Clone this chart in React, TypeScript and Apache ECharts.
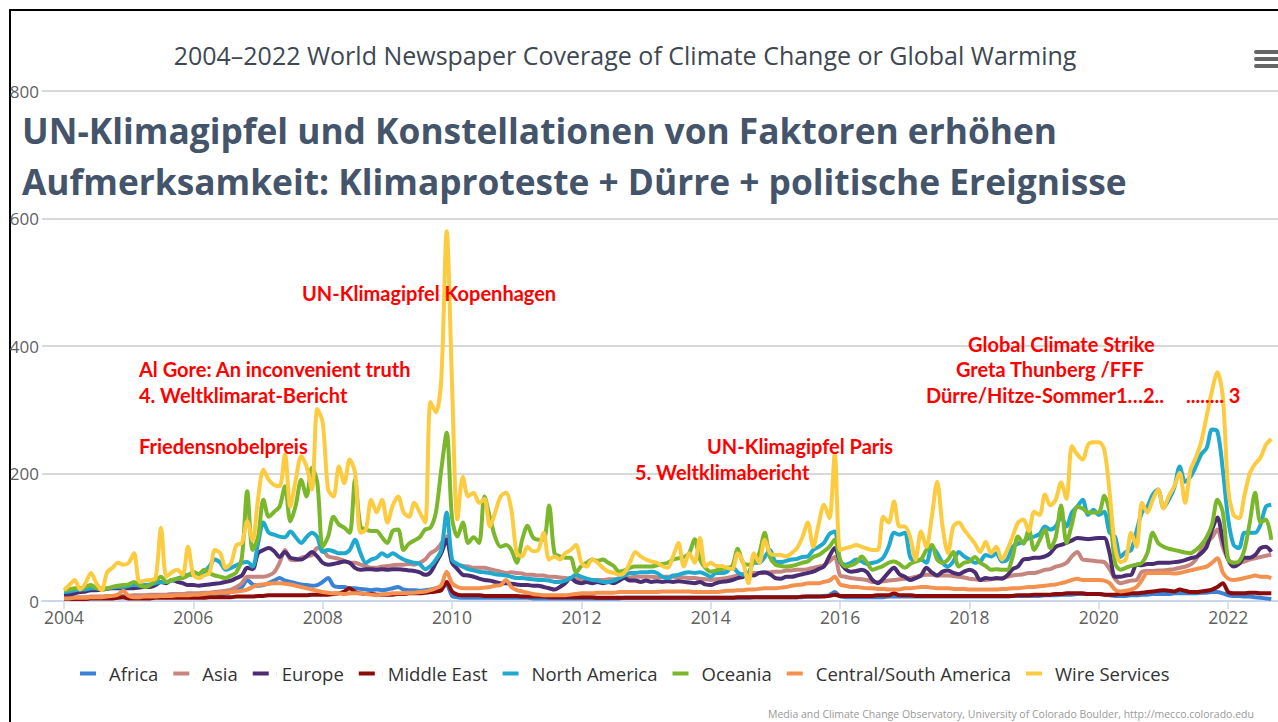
import React, { useEffect, useRef } from "react";
import * as echarts from "echarts";

// Monthly values, Jan 2004 .. Sep 2022 (one row per year)
const africa = [
  3, 3, 4, 4, 4, 5, 5, 5, 5, 5, 6, 6,
  6, 6, 6, 6, 7, 7, 7, 7, 8, 8, 8, 8,
  8, 8, 9, 9, 10, 10, 12, 14, 16, 22, 33, 26,
  24, 25, 28, 32, 36, 32, 30, 28, 26, 25, 24, 25,
  30, 36, 24, 22, 22, 20, 20, 19, 18, 17, 18, 17,
  18, 20, 22, 18, 17, 17, 16, 17, 18, 20, 22, 25,
  8, 6, 5, 5, 5, 5, 5, 5, 5, 5, 5, 5,
  5, 5, 5, 4, 4, 4, 4, 4, 4, 4, 4, 4,
  4, 4, 4, 4, 4, 4, 4, 4, 5, 5, 5, 5,
  5, 5, 5, 5, 5, 5, 5, 5, 5, 5, 5, 5,
  5, 5, 5, 5, 5, 5, 5, 5, 6, 6, 6, 6,
  6, 6, 6, 6, 6, 6, 7, 7, 7, 8, 9, 14,
  7, 6, 6, 6, 6, 6, 6, 6, 6, 7, 7, 7,
  7, 7, 7, 7, 7, 7, 7, 7, 7, 7, 7, 7,
  7, 7, 7, 7, 7, 7, 7, 7, 8, 8, 8, 8,
  8, 8, 9, 9, 9, 10, 10, 10, 11, 11, 11, 11,
  11, 10, 9, 8, 8, 8, 9, 9, 10, 10, 11, 11,
  11, 11, 12, 12, 12, 12, 12, 13, 13, 14, 14, 12,
  9, 8, 8, 7, 7, 6, 5, 4, 3,
];

const asia = [
  5, 5, 6, 6, 6, 7, 7, 7, 8, 8, 8, 8,
  8, 9, 9, 9, 10, 10, 10, 10, 11, 11, 11, 12,
  12, 12, 13, 13, 14, 15, 16, 18, 22, 28, 38, 38,
  38, 38, 40, 45, 60, 80, 65, 64, 68, 70, 72, 83,
  80, 70, 68, 66, 63, 60, 60, 57, 55, 52, 52, 54,
  55, 56, 57, 57, 58, 57, 60, 65, 75, 80, 90, 101,
  60, 57, 55, 54, 52, 52, 52, 50, 48, 46, 44, 45,
  44, 43, 41, 41, 40, 40, 38, 38, 37, 36, 35, 35,
  34, 34, 33, 33, 33, 34, 34, 35, 36, 37, 38, 38,
  38, 38, 37, 38, 38, 38, 37, 37, 36, 36, 35, 34,
  33, 34, 35, 36, 38, 40, 42, 44, 44, 44, 44, 45,
  46, 46, 48, 48, 49, 49, 50, 52, 54, 56, 62, 69,
  40, 38, 36, 35, 34, 33, 30, 30, 31, 32, 33, 34,
  35, 36, 38, 40, 41, 41, 40, 40, 40, 39, 38, 37,
  35, 34, 33, 33, 34, 35, 36, 38, 40, 41, 42, 44,
  44, 46, 49, 50, 54, 56, 60, 70, 77, 65, 64, 63,
  62, 61, 50, 35, 28, 30, 32, 33, 46, 47, 47, 48,
  48, 49, 50, 52, 54, 57, 65, 80, 91, 100, 112, 85,
  65, 60, 60, 62, 65, 67, 69, 71, 72,
];

const europe = [
  9, 10, 12, 14, 15, 17, 17, 18, 19, 20, 20, 20,
  20, 20, 21, 22, 22, 25, 30, 28, 33, 30, 28, 25,
  25, 24, 25, 26, 27, 28, 30, 32, 36, 40, 52, 50,
  75, 80, 83, 78, 69, 77, 68, 66, 65, 70, 77, 70,
  60, 57, 58, 60, 62, 60, 52, 49, 50, 50, 49, 50,
  49, 50, 50, 49, 48, 47, 45, 41, 45, 60, 75, 96,
  60, 50, 41, 40, 38, 35, 33, 32, 30, 28, 28, 27,
  26, 25, 25, 24, 24, 22, 20, 18, 22, 28, 36, 30,
  28, 30, 28, 30, 28, 30, 28, 32, 36, 32, 32, 30,
  32, 30, 31, 30, 31, 30, 31, 30, 29, 28, 30, 26,
  25, 28, 30, 31, 33, 36, 38, 42, 40, 44, 45, 42,
  36, 35, 38, 38, 40, 42, 44, 46, 50, 54, 70, 83,
  62, 50, 46, 47, 49, 45, 33, 28, 35, 45, 52, 42,
  38, 33, 36, 40, 52, 45, 40, 46, 48, 44, 42, 46,
  49, 45, 33, 36, 35, 36, 35, 40, 50, 54, 65, 66,
  68, 68, 70, 75, 85, 88, 91, 95, 99, 98, 97, 98,
  99, 99, 75, 38, 38, 40, 41, 57, 56, 58, 58, 60,
  60, 60, 61, 62, 64, 67, 69, 75, 85, 112, 131, 96,
  65, 54, 58, 68, 68, 72, 83, 85, 77,
];

const middleEast = [
  3, 3, 3, 3, 3, 4, 4, 4, 4, 4, 5, 6,
  4, 4, 4, 4, 4, 5, 5, 5, 5, 5, 5, 5,
  5, 5, 5, 6, 6, 6, 6, 6, 7, 7, 7, 7,
  8, 8, 9, 9, 9, 9, 9, 9, 9, 9, 10, 10,
  10, 10, 11, 12, 15, 20, 14, 12, 11, 11, 10, 10,
  10, 10, 11, 11, 12, 12, 12, 13, 14, 15, 17, 30,
  15, 10, 9, 9, 9, 9, 8, 8, 8, 8, 8, 8,
  8, 7, 7, 7, 7, 7, 6, 6, 6, 6, 6, 6,
  6, 6, 6, 5, 5, 5, 5, 5, 5, 5, 5, 5,
  5, 5, 5, 5, 5, 5, 5, 5, 5, 5, 5, 5,
  5, 5, 5, 5, 5, 6, 6, 6, 6, 6, 6, 6,
  6, 6, 6, 6, 6, 7, 7, 7, 7, 7, 8, 10,
  8, 8, 8, 8, 8, 8, 8, 9, 9, 9, 12, 9,
  9, 9, 8, 8, 8, 8, 8, 8, 8, 8, 8, 8,
  8, 8, 8, 8, 8, 8, 8, 8, 8, 9, 9, 9,
  10, 10, 10, 10, 11, 11, 12, 12, 12, 12, 11, 11,
  11, 10, 10, 10, 11, 11, 12, 12, 13, 14, 15, 16,
  17, 16, 15, 18, 16, 14, 14, 15, 16, 18, 22, 28,
  14, 12, 12, 12, 13, 13, 12, 12, 12,
];

const northAmerica = [
  14, 15, 17, 18, 18, 20, 20, 20, 20, 21, 22, 22,
  24, 25, 24, 25, 26, 28, 30, 30, 32, 35, 38, 41,
  41, 42, 45, 55, 65, 60, 49, 52, 56, 60, 61, 54,
  90, 123, 107, 104, 101, 100, 109, 100, 91, 100, 107, 100,
  77, 80, 78, 75, 75, 80, 96, 75, 60, 65, 68, 75,
  70, 75, 70, 65, 62, 60, 58, 50, 55, 65, 80, 139,
  65, 58, 54, 50, 48, 46, 45, 44, 42, 41, 40, 38,
  36, 36, 35, 34, 33, 33, 32, 30, 30, 32, 36, 41,
  38, 35, 33, 32, 30, 30, 32, 36, 40, 44, 44, 45,
  45, 46, 44, 38, 36, 40, 41, 44, 45, 44, 45, 42,
  38, 44, 44, 46, 54, 45, 41, 44, 60, 60, 69, 80,
  62, 61, 63, 65, 66, 69, 70, 80, 85, 91, 105, 109,
  62, 57, 60, 65, 62, 58, 60, 62, 68, 85, 107, 104,
  107, 69, 62, 65, 60, 85, 75, 60, 54, 62, 77, 70,
  65, 60, 62, 72, 70, 75, 62, 65, 85, 90, 93, 99,
  101, 105, 117, 112, 117, 132, 117, 139, 148, 159, 135, 143,
  135, 140, 107, 101, 69, 77, 80, 110, 139, 148, 167, 175,
  146, 159, 178, 211, 187, 195, 211, 230, 240, 269, 266, 206,
  128, 88, 83, 107, 107, 107, 120, 148, 151,
];

const oceania = [
  17, 18, 20, 20, 22, 25, 20, 18, 20, 22, 24, 25,
  26, 30, 25, 22, 25, 32, 38, 30, 33, 35, 36, 40,
  46, 42, 49, 44, 40, 38, 36, 40, 45, 68, 172, 80,
  100, 159, 132, 140, 148, 180, 125, 150, 190, 164, 209, 186,
  85, 101, 132, 120, 115, 107, 190, 117, 112, 110, 110, 100,
  91, 110, 112, 80, 90, 95, 100, 112, 115, 139, 206, 264,
  130, 101, 123, 91, 100, 91, 164, 132, 100, 85, 88, 80,
  60, 96, 118, 100, 96, 96, 150, 75, 70, 68, 68, 45,
  55, 60, 65, 63, 65, 60, 55, 46, 48, 52, 54, 54,
  54, 54, 56, 58, 60, 65, 67, 69, 75, 97, 65, 52,
  46, 48, 50, 52, 55, 82, 60, 57, 60, 75, 107, 68,
  57, 55, 54, 55, 57, 60, 62, 69, 72, 78, 85, 96,
  65, 54, 56, 60, 70, 60, 49, 52, 55, 60, 62, 58,
  52, 58, 62, 65, 80, 88, 65, 60, 65, 77, 54, 60,
  62, 69, 60, 55, 49, 50, 49, 49, 69, 101, 90, 112,
  80, 95, 112, 83, 100, 150, 91, 120, 148, 145, 139, 139,
  139, 165, 139, 60, 49, 52, 55, 57, 60, 75, 107, 91,
  85, 82, 80, 78, 76, 75, 80, 88, 100, 120, 159, 139,
  65, 60, 62, 80, 123, 170, 123, 128, 96,
];

const centralSouthAmerica = [
  4, 4, 5, 5, 5, 6, 6, 6, 7, 8, 10, 16,
  8, 6, 6, 7, 7, 7, 8, 8, 8, 9, 9, 9,
  10, 10, 11, 12, 12, 13, 13, 14, 15, 16, 18, 22,
  25, 26, 27, 28, 28, 27, 26, 24, 22, 20, 18, 16,
  14, 13, 12, 12, 11, 12, 12, 12, 11, 10, 9, 10,
  11, 12, 12, 12, 13, 13, 14, 15, 17, 20, 25, 46,
  28, 22, 20, 20, 20, 20, 21, 22, 24, 25, 33, 22,
  17, 15, 13, 11, 10, 9, 9, 9, 9, 9, 10, 11,
  12, 12, 12, 13, 13, 13, 13, 14, 14, 14, 14, 14,
  14, 14, 14, 15, 15, 15, 15, 15, 15, 14, 14, 14,
  14, 14, 15, 16, 16, 17, 17, 18, 18, 19, 20, 20,
  20, 21, 22, 24, 25, 26, 28, 28, 28, 30, 32, 38,
  26, 24, 22, 22, 21, 20, 20, 19, 19, 18, 18, 18,
  20, 20, 21, 22, 22, 21, 20, 20, 20, 19, 19, 19,
  18, 18, 18, 18, 18, 18, 19, 19, 20, 20, 21, 22,
  22, 23, 24, 25, 26, 28, 30, 33, 35, 33, 33, 33,
  33, 32, 28, 18, 15, 16, 18, 22, 33, 44, 44, 44,
  44, 44, 43, 44, 46, 48, 50, 52, 54, 60, 67, 45,
  35, 33, 34, 36, 38, 40, 38, 38, 36,
];

const wireServices = [
  17, 25, 33, 18, 28, 44, 28, 17, 45, 52, 60, 57,
  60, 75, 30, 32, 33, 36, 115, 38, 45, 49, 41, 85,
  41, 36, 40, 44, 80, 75, 52, 60, 88, 91, 125, 95,
  160, 206, 190, 182, 180, 230, 148, 190, 227, 211, 175, 301,
  280, 175, 164, 211, 185, 222, 201, 107, 112, 159, 139, 159,
  123, 150, 164, 139, 132, 154, 139, 123, 312, 296, 348, 580,
  340, 128, 195, 164, 170, 154, 160, 117, 139, 164, 170, 143,
  75, 70, 85, 78, 80, 107, 65, 70, 65, 75, 80, 88,
  60, 54, 65, 60, 52, 46, 44, 41, 45, 60, 77, 70,
  65, 62, 60, 55, 52, 70, 91, 54, 75, 60, 99, 54,
  60, 55, 55, 52, 50, 75, 60, 28, 75, 60, 96, 75,
  72, 72, 70, 75, 83, 100, 123, 85, 120, 151, 130, 230,
  80, 83, 85, 88, 85, 82, 80, 80, 132, 123, 156, 117,
  117, 100, 65, 109, 85, 132, 187, 117, 75, 117, 123, 112,
  101, 90, 77, 93, 75, 85, 65, 80, 101, 123, 128, 110,
  140, 135, 167, 150, 159, 186, 160, 243, 230, 222, 245, 249,
  249, 238, 170, 85, 61, 65, 107, 85, 154, 139, 159, 175,
  145, 165, 180, 201, 154, 206, 225, 250, 290, 330, 359, 320,
  175, 135, 130, 165, 200, 215, 225, 245, 254,
];

const seriesNames = [
  "Africa",
  "Asia",
  "Europe",
  "Middle East",
  "North America",
  "Oceania",
  "Central/South America",
  "Wire Services",
];
const seriesValues = [
  africa,
  asia,
  europe,
  middleEast,
  northAmerica,
  oceania,
  centralSouthAmerica,
  wireServices,
];
const seriesColors = [
  "#3a82d6",
  "#c6857f",
  "#4b2d73",
  "#8b0a0a",
  "#1fa9cf",
  "#7ab72b",
  "#f5914f",
  "#fdcb40",
];

const yearTicks = [2004, 2006, 2008, 2010, 2012, 2014, 2016, 2018, 2020, 2022];

const annotations = [
  { text: "UN-Klimagipfel Kopenhagen", x: 302, y: 293 },
  { text: "Al Gore: An inconvenient truth", x: 139, y: 369 },
  { text: "4. Weltklimarat-Bericht", x: 139, y: 395 },
  { text: "Friedensnobelpreis", x: 139, y: 446 },
  { text: "UN-Klimagipfel Paris", x: 707, y: 446 },
  { text: "5. Weltklimabericht", x: 635, y: 472 },
  { text: "Global Climate Strike", x: 968, y: 344 },
  { text: "Greta Thunberg /FFF", x: 956, y: 369 },
  { text: "Dürre/Hitze-Sommer1…2..", x: 926, y: 395 },
  { text: "........ 3", x: 1186, y: 395 },
];

// legend marker: a 16x4 bar followed by empty room, so the label sits further right
const legendIcon = "path://M0,0h16v4h-16z M23.9,0h0.1v4h-0.1z";

export default function App() {
  const ref = useRef<HTMLDivElement>(null);

  useEffect(() => {
    if (!ref.current) return;
    const chart = echarts.init(ref.current, undefined, { renderer: "svg" });

    const series = seriesNames.map((name, k) => ({
      name,
      type: "line",
      data: seriesValues[k].map((v, i) => [2004 + i / 12, v]),
      showSymbol: false,
      smooth: 0.3,
      lineStyle: { width: 4, color: seriesColors[k] },
      itemStyle: { color: seriesColors[k] },
      emphasis: { disabled: true },
      silent: true,
    }));

    const graphics: any[] = [
      // slide frame
      { type: "rect", shape: { x: 9, y: 9, width: 2, height: 713 }, style: { fill: "#000" }, silent: true },
      { type: "rect", shape: { x: 9, y: 9, width: 1269, height: 2 }, style: { fill: "#000" }, silent: true },
      // chart title
      {
        type: "text",
        x: 625,
        y: 55,
        style: {
          text: "2004–2022 World Newspaper Coverage of Climate Change or Global Warming",
          font: "25px 'Open Sans'",
          fill: "#3d4852",
          align: "center",
          verticalAlign: "middle",
        },
      },
      // menu icon
      { type: "rect", shape: { x: 1254, y: 50, width: 26, height: 4, r: 2 }, style: { fill: "#666" } },
      { type: "rect", shape: { x: 1254, y: 57, width: 26, height: 4, r: 2 }, style: { fill: "#666" } },
      { type: "rect", shape: { x: 1254, y: 64, width: 26, height: 4, r: 2 }, style: { fill: "#666" } },
      // headline
      {
        type: "text",
        x: 22,
        y: 130,
        style: {
          text: "UN-Klimagipfel und Konstellationen von Faktoren erhöhen",
          font: "bold 35.3px 'Open Sans'",
          fill: "#44546a",
          align: "left",
          verticalAlign: "middle",
        },
      },
      {
        type: "text",
        x: 22,
        y: 181,
        style: {
          text: "Aufmerksamkeit: Klimaproteste + Dürre + politische Ereignisse",
          font: "bold 35.3px 'Open Sans'",
          fill: "#44546a",
          align: "left",
          verticalAlign: "middle",
        },
      },
      // credits
      {
        type: "text",
        x: 768,
        y: 714,
        style: {
          text: "Media and Climate Change Observatory, University of Colorado Boulder, http://mecco.colorado.edu",
          font: "10.5px 'Open Sans'",
          fill: "#999",
          align: "left",
          verticalAlign: "middle",
        },
      },
      ...annotations.map((a) => ({
        type: "text",
        x: a.x,
        y: a.y,
        z: 100,
        style: {
          text: a.text,
          font: "bold 20px Lato",
          fill: "#ff0000",
          align: "left",
          verticalAlign: "middle",
        },
      })),
    ];

    chart.setOption({
      animation: false,
      backgroundColor: "#ffffff",
      grid: { left: 42, right: 0, top: 91, bottom: 121, containLabel: false },
      xAxis: {
        type: "value",
        min: 2003.66,
        max: 2022.77,
        axisLine: { show: true, lineStyle: { color: "#ccd6eb", width: 2 } },
        axisTick: {
          show: true,
          customValues: yearTicks,
          length: 8,
          lineStyle: { color: "#ccd6eb", width: 1.5 },
        },
        axisLabel: {
          customValues: yearTicks,
          formatter: (v: number) => String(Math.round(v)),
          color: "#606060",
          fontSize: 17.5,
          fontFamily: "Open Sans",
          margin: 7,
        },
        splitLine: { show: false },
      },
      yAxis: {
        type: "value",
        min: 0,
        max: 800,
        interval: 200,
        axisLine: { show: false },
        axisTick: { show: false },
        axisLabel: {
          color: "#606060",
          fontSize: 17,
          fontFamily: "Open Sans",
          margin: 3,
        },
        splitLine: { lineStyle: { color: "#d8d8d8", width: 2 } },
      },
      legend: {
        data: seriesNames.map((name) => ({ name, icon: legendIcon })),
        top: 659,
        left: 75,
        itemWidth: 24,
        itemHeight: 4,
        itemGap: 15,
        textStyle: { fontSize: 18.5, color: "#333", fontFamily: "Open Sans" },
        selectedMode: false,
      },
      series,
      graphic: graphics,
    });

    return () => {
      chart.dispose();
    };
  }, []);

  return (
    <div
      ref={ref}
      style={{ position: "absolute", left: 0, top: 0, width: 1278, height: 722, background: "#fff" }}
    />
  );
}
